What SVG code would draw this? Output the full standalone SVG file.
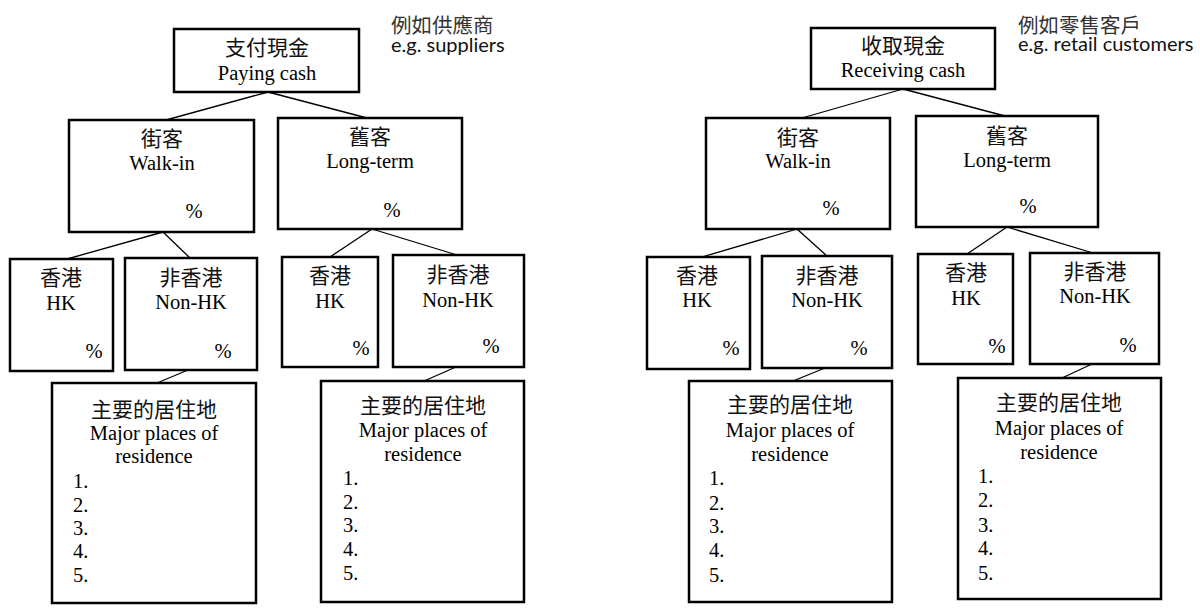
<svg xmlns="http://www.w3.org/2000/svg" width="1200" height="608" viewBox="0 0 1200 608">
<style>
.box{fill:#fff;stroke:#000;stroke-width:2.5}
.con line{stroke:#000;stroke-width:1.3}
.cj{font-family:"Noto Sans CJK TC","Noto Sans CJK SC",sans-serif;font-size:21px;fill:#111;text-anchor:middle}
.en{font-family:"Liberation Serif","Times New Roman",serif;font-size:20.5px;fill:#000;text-anchor:middle}
.li{font-family:"Liberation Serif","Times New Roman",serif;font-size:20.5px;fill:#000}
.an{font-family:"Noto Sans CJK TC","Noto Sans CJK SC",sans-serif;font-size:20.5px;fill:#333}
.ae{font-family:Lato,"Liberation Sans",sans-serif;font-size:20px;fill:#111}
</style>
<rect width="1200" height="608" fill="#fff"/>
<g id="connectors" class="con">
<line x1="268" y1="92" x2="166" y2="120"/>
<line x1="268" y1="92" x2="367" y2="118"/>
<line x1="163" y1="232" x2="67" y2="259"/>
<line x1="163" y1="232" x2="190" y2="258"/>
<line x1="372" y1="229" x2="330" y2="257"/>
<line x1="372" y1="229" x2="457" y2="255"/>
<line x1="188" y1="370" x2="157" y2="383"/>
<line x1="456" y1="367" x2="424" y2="381"/>
<line x1="903" y1="89" x2="802" y2="118"/>
<line x1="903" y1="89" x2="1005" y2="116"/>
<line x1="797" y1="229" x2="702" y2="257"/>
<line x1="797" y1="229" x2="827" y2="256"/>
<line x1="1007" y1="227" x2="967" y2="254"/>
<line x1="1007" y1="227" x2="1093" y2="253"/>
<line x1="825" y1="368" x2="793" y2="381"/>
<line x1="1092" y1="364" x2="1062" y2="378"/>
</g>
<g id="note-suppliers">
<text class="an" x="391" y="33">例如供應商</text>
<text class="ae" x="391" y="52">e.g. suppliers</text>
</g>
<g id="note-retail">
<text class="an" x="1018" y="33">例如零售客戶</text>
<text class="ae" x="1018" y="51">e.g. retail customers</text>
</g>
<g id="paying-cash">
<rect class="box" x="174" y="29" width="185" height="63"/>
<text class="cj" x="267" y="55">支付現金</text>
<text class="en" x="267" y="80">Paying cash</text>
</g>
<g id="pay-walkin">
<rect class="box" x="69" y="120" width="185" height="112"/>
<text class="cj" x="162" y="146">街客</text>
<text class="en" x="162" y="170">Walk-in</text>
<text class="en" x="194" y="218">%</text>
</g>
<g id="pay-longterm">
<rect class="box" x="278" y="118" width="184" height="111"/>
<text class="cj" x="370" y="144">舊客</text>
<text class="en" x="370" y="168">Long-term</text>
<text class="en" x="392" y="217">%</text>
</g>
<g id="pay-walkin-hk">
<rect class="box" x="10" y="259" width="103" height="112"/>
<text class="cj" x="61" y="285">香港</text>
<text class="en" x="61" y="310">HK</text>
<text class="en" x="94" y="358">%</text>
</g>
<g id="pay-walkin-nonhk">
<rect class="box" x="125" y="258" width="132" height="112"/>
<text class="cj" x="191" y="285">非香港</text>
<text class="en" x="191" y="309">Non-HK</text>
<text class="en" x="223" y="358">%</text>
</g>
<g id="pay-longterm-hk">
<rect class="box" x="282" y="257" width="96" height="110"/>
<text class="cj" x="330" y="283">香港</text>
<text class="en" x="330" y="308">HK</text>
<text class="en" x="361" y="355">%</text>
</g>
<g id="pay-longterm-nonhk">
<rect class="box" x="393" y="255" width="131" height="112"/>
<text class="cj" x="458" y="282">非香港</text>
<text class="en" x="458" y="307">Non-HK</text>
<text class="en" x="491" y="353">%</text>
</g>
<g id="pay-walkin-residence">
<rect class="box" x="52" y="383" width="204" height="220"/>
<text class="cj" x="154" y="417">主要的居住地</text>
<text class="en" x="154" y="440">Major places of</text>
<text class="en" x="154" y="463">residence</text>
<text class="li" x="73" y="488">1.</text>
<text class="li" x="73" y="512">2.</text>
<text class="li" x="73" y="535">3.</text>
<text class="li" x="73" y="558">4.</text>
<text class="li" x="73" y="582">5.</text>
</g>
<g id="pay-longterm-residence">
<rect class="box" x="321" y="381" width="203" height="221"/>
<text class="cj" x="423" y="413">主要的居住地</text>
<text class="en" x="423" y="437">Major places of</text>
<text class="en" x="423" y="461">residence</text>
<text class="li" x="343" y="485">1.</text>
<text class="li" x="343" y="509">2.</text>
<text class="li" x="343" y="532">3.</text>
<text class="li" x="343" y="556">4.</text>
<text class="li" x="343" y="580">5.</text>
</g>
<g id="receiving-cash">
<rect class="box" x="811" y="28" width="184" height="61"/>
<text class="cj" x="903" y="53">收取現金</text>
<text class="en" x="903" y="77">Receiving cash</text>
</g>
<g id="rec-walkin">
<rect class="box" x="706" y="118" width="184" height="111"/>
<text class="cj" x="798" y="145">街客</text>
<text class="en" x="798" y="168">Walk-in</text>
<text class="en" x="831" y="215">%</text>
</g>
<g id="rec-longterm">
<rect class="box" x="916" y="116" width="182" height="111"/>
<text class="cj" x="1007" y="143">舊客</text>
<text class="en" x="1007" y="167">Long-term</text>
<text class="en" x="1028" y="213">%</text>
</g>
<g id="rec-walkin-hk">
<rect class="box" x="647" y="257" width="103" height="112"/>
<text class="cj" x="697" y="283">香港</text>
<text class="en" x="697" y="307">HK</text>
<text class="en" x="731" y="355">%</text>
</g>
<g id="rec-walkin-nonhk">
<rect class="box" x="762" y="256" width="130" height="112"/>
<text class="cj" x="827" y="283">非香港</text>
<text class="en" x="827" y="307">Non-HK</text>
<text class="en" x="859" y="355">%</text>
</g>
<g id="rec-longterm-hk">
<rect class="box" x="918" y="254" width="95" height="110"/>
<text class="cj" x="966" y="280">香港</text>
<text class="en" x="966" y="305">HK</text>
<text class="en" x="997" y="353">%</text>
</g>
<g id="rec-longterm-nonhk">
<rect class="box" x="1030" y="253" width="129" height="111"/>
<text class="cj" x="1095" y="279">非香港</text>
<text class="en" x="1095" y="303">Non-HK</text>
<text class="en" x="1128" y="352">%</text>
</g>
<g id="rec-walkin-residence">
<rect class="box" x="689" y="381" width="203" height="221"/>
<text class="cj" x="790" y="412">主要的居住地</text>
<text class="en" x="790" y="437">Major places of</text>
<text class="en" x="790" y="461">residence</text>
<text class="li" x="709" y="485">1.</text>
<text class="li" x="709" y="510">2.</text>
<text class="li" x="709" y="533">3.</text>
<text class="li" x="709" y="557">4.</text>
<text class="li" x="709" y="582">5.</text>
</g>
<g id="rec-longterm-residence">
<rect class="box" x="958" y="378" width="203" height="221"/>
<text class="cj" x="1059" y="410">主要的居住地</text>
<text class="en" x="1059" y="435">Major places of</text>
<text class="en" x="1059" y="459">residence</text>
<text class="li" x="978" y="483">1.</text>
<text class="li" x="978" y="507">2.</text>
<text class="li" x="978" y="532">3.</text>
<text class="li" x="978" y="555">4.</text>
<text class="li" x="978" y="580">5.</text>
</g>
</svg>
